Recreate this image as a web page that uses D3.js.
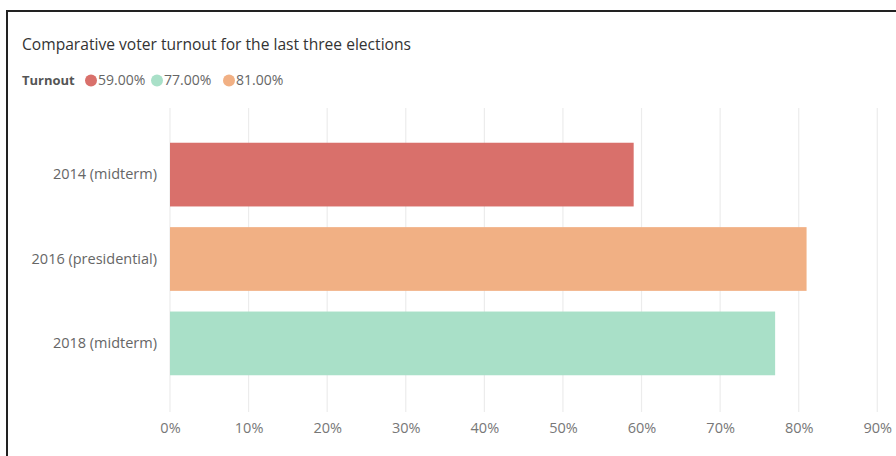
<!DOCTYPE html>
<html>
<head>
<meta charset="utf-8">
<script src="https://cdn.jsdelivr.net/npm/d3@7"></script>
<style>
  html, body { margin: 0; padding: 0; background: #fff; }
  svg { display: block; }
</style>
</head>
<body>
<svg id="chart" width="896" height="456"></svg>
<script>
// Turnout per election
const elections = ["2014 (midterm)", "2016 (presidential)", "2018 (midterm)"];
const turnout = [59, 81, 77];
const barColors = ["#d9706b", "#f1b084", "#a9e0c8"];

// Legend entries (by turnout value)
const legendLabels = ["59.00%", "77.00%", "81.00%"];
const legendColors = ["#d9706b", "#a9e0c8", "#f1b084"];

// Axis ticks
const tickValues = [0, 10, 20, 30, 40, 50, 60, 70, 80, 90];

const font = "'Segoe UI', 'Open Sans', 'Noto Sans', sans-serif";
const svg = d3.select("#chart");

// Frame
svg.append("path")
  .attr("d", "M7,460 V11 H900")
  .attr("fill", "none")
  .attr("stroke", "#222")
  .attr("stroke-width", 2);

// Title
svg.append("text")
  .attr("x", 22).attr("y", 50)
  .attr("font-family", font).attr("font-size", 15.6)
  .attr("fill", "#333")
  .text("Comparative voter turnout for the last three elections");

// Legend
const legend = svg.append("g").attr("font-family", font);
legend.append("text")
  .attr("x", 22).attr("y", 85)
  .attr("font-size", 13)
  .attr("font-weight", "bold").attr("fill", "#555")
  .text("Turnout");
const legendX = [91, 157, 229];
legendLabels.forEach((lab, i) => {
  legend.append("circle")
    .attr("cx", legendX[i]).attr("cy", 80.5).attr("r", 6)
    .attr("fill", legendColors[i]);
  legend.append("text")
    .attr("x", legendX[i] + 7).attr("y", 85)
    .attr("font-size", 14)
    .attr("fill", "#666")
    .text(lab);
});

// Scales
const x = d3.scaleLinear().domain([0, 90]).range([170, 877.3]);
const y = d3.scaleBand().domain(elections).range([132.4, 385.6]).paddingInner(0.245).paddingOuter(0.1225);

// Gridlines
svg.append("g")
  .selectAll("line")
  .data(tickValues)
  .join("line")
  .attr("x1", d => x(d)).attr("x2", d => x(d))
  .attr("y1", 108).attr("y2", 412)
  .attr("stroke", "#ececec").attr("stroke-width", 1.2);

// X axis labels
const xAxis = d3.axisBottom(x).tickValues(tickValues).tickFormat(d => d + "%").tickSize(0).tickPadding(0);
const gx = svg.append("g").attr("transform", "translate(0,422.5)").call(xAxis);
gx.select(".domain").remove();
gx.selectAll("text")
  .attr("font-family", font).attr("font-size", 14.5)
  .attr("fill", "#777").attr("dy", "0.71em");

// Y axis labels
const yAxis = d3.axisLeft(y).tickSize(0).tickPadding(0);
const gy = svg.append("g").attr("transform", "translate(157,0)").call(yAxis);
gy.select(".domain").remove();
gy.selectAll("text")
  .attr("font-family", font).attr("font-size", 14.5)
  .attr("fill", "#666");

// Bars
svg.append("g")
  .selectAll("rect")
  .data(elections)
  .join("rect")
  .attr("x", x(0))
  .attr("y", d => y(d))
  .attr("width", (d, i) => x(turnout[i]) - x(0))
  .attr("height", y.bandwidth())
  .attr("fill", (d, i) => barColors[i]);
</script>
</body>
</html>
